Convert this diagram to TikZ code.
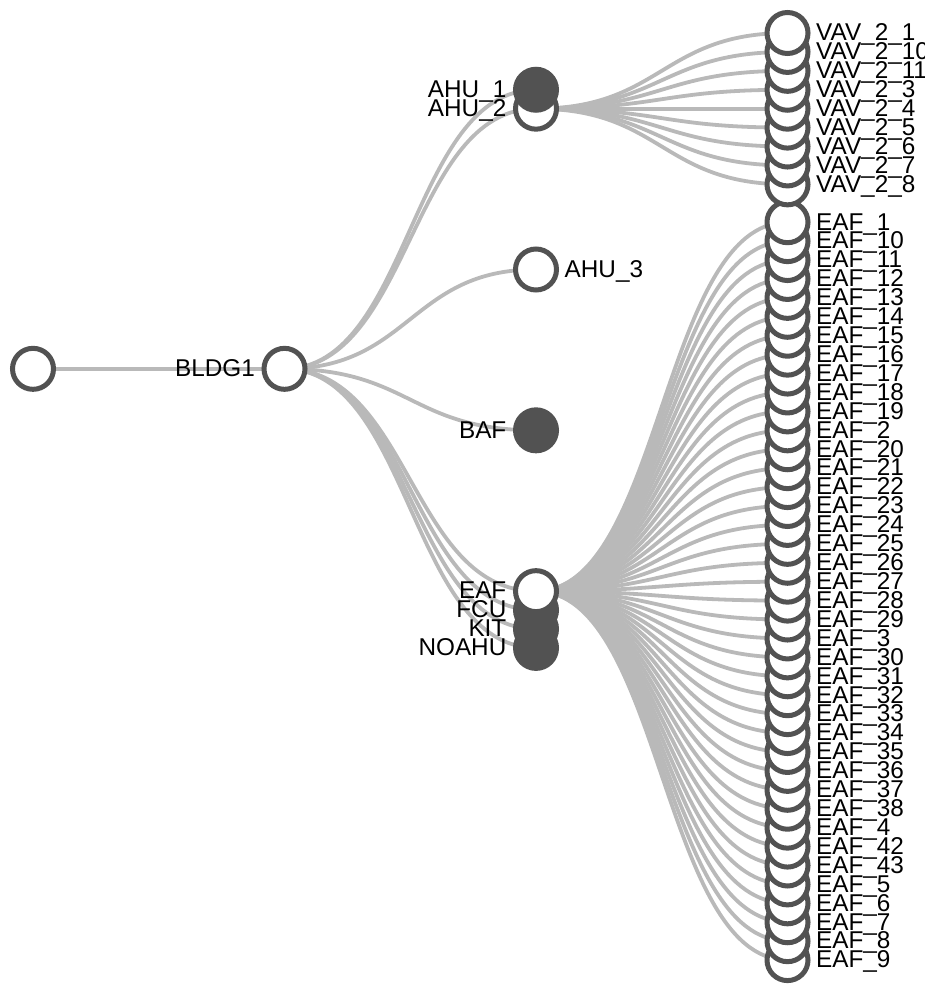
\documentclass[tikz,border=0pt]{standalone}
\usepackage{fontspec}
\newfontfamily\lbfamily{Liberation Sans}
\usetikzlibrary{calc}
\pgfdeclarelayer{bg}
\pgfsetlayers{bg,main}

\definecolor{nodegray}{RGB}{82,82,82}
\definecolor{linkgray}{RGB}{185,185,185}

% one tree node: name, x, y, circle style, label style, label text
\newcommand\tnode[6]{%
  \node[#4] (#1) at (#2,#3) {};
  \node[#5] (#1-t) at (#1.center) {#6};}

% horizontal cubic link between two tree nodes
\newcommand\treelink[2]{%
  \path (#1.center) -- coordinate[pos=.5] (lkmid) (#2.center);
  \draw[link] (#1.center) .. controls (lkmid |- #1.center) and (lkmid |- #2.center) .. (#2.center);}

\begin{document}
\begin{tikzpicture}[x=1pt,y=-1pt,
  openc/.style={circle, draw=nodegray, line width=5pt, fill=white,
                minimum size=41pt, inner sep=0pt},
  shutc/.style={openc, fill=nodegray},
  lbl/.style={inner sep=0pt, text=black,
              font={\lbfamily\fontsize{24.3}{25}\selectfont}},
  lblR/.style={lbl, anchor=base west, xshift=28.5pt, yshift=-7.8pt},
  lblL/.style={lbl, anchor=base east, xshift=-29.5pt, yshift=-7.8pt},
  link/.style={draw=linkgray, line width=3.8pt}]
\useasboundingbox (0,0) rectangle (925,984);
\clip (0,0) rectangle (925,984);

\def\uu{18.92}
\def\ytop{33}
\def\xa{33}
\def\xb{284.5}
\def\xc{536}
\def\xd{787.5}

% leaves under EAF, drawn bottom-up so upper circles lie on top
\foreach \s [count=\i from 0] in {9,8,7,6,5,43,42,4,38,37,36,35,34,33,32,31,30,3,29,28,27,26,25,24,23,22,21,20,2,19,18,17,16,15,14,13,12,11,10,1} {
  \pgfmathsetmacro\yy{\ytop + (49-\i)*\uu}
  \tnode{eaf-\s}{\xd}{\yy}{openc}{lblR}{EAF\_\s}
}
% leaves under AHU_2
\foreach \s [count=\i from 0] in {8,7,6,5,4,3,11,10,1} {
  \pgfmathsetmacro\yy{\ytop + (8-\i)*\uu}
  \tnode{vav-\s}{\xd}{\yy}{openc}{lblR}{VAV\_2\_\s}
}

% second level
\tnode{noahu}{\xc}{647.90}{shutc}{lblL}{NOAHU}
\tnode{kit}{\xc}{628.98}{shutc}{lblL}{KIT}
\tnode{fcu}{\xc}{610.06}{shutc}{lblL}{FCU}
\tnode{eaf}{\xc}{591.14}{openc}{lblL}{EAF}
\tnode{baf}{\xc}{430.32}{shutc}{lblL}{BAF}
\tnode{ahu3}{\xc}{269.50}{openc}{lblR}{AHU\_3}
\tnode{ahu2}{\xc}{108.68}{openc}{lblL}{AHU\_2}
\tnode{ahu1}{\xc}{89.76}{shutc}{lblL}{AHU\_1}

% building and root
\tnode{bldg}{\xb}{368.83}{openc}{lblL}{BLDG1}
\node[openc] (root) at (\xa,368.83) {};

\begin{pgfonlayer}{bg}
  \treelink{root}{bldg}
  \foreach \n in {ahu1,ahu2,ahu3,baf,eaf,fcu,kit,noahu}
    {\treelink{bldg}{\n}}
  \foreach \s in {1,10,11,3,4,5,6,7,8}
    {\treelink{ahu2}{vav-\s}}
  \foreach \s in {1,10,11,12,13,14,15,16,17,18,19,2,20,21,22,23,24,25,26,27,28,29,3,30,31,32,33,34,35,36,37,38,4,42,43,5,6,7,8,9}
    {\treelink{eaf}{eaf-\s}}
\end{pgfonlayer}
\end{tikzpicture}
\end{document}
